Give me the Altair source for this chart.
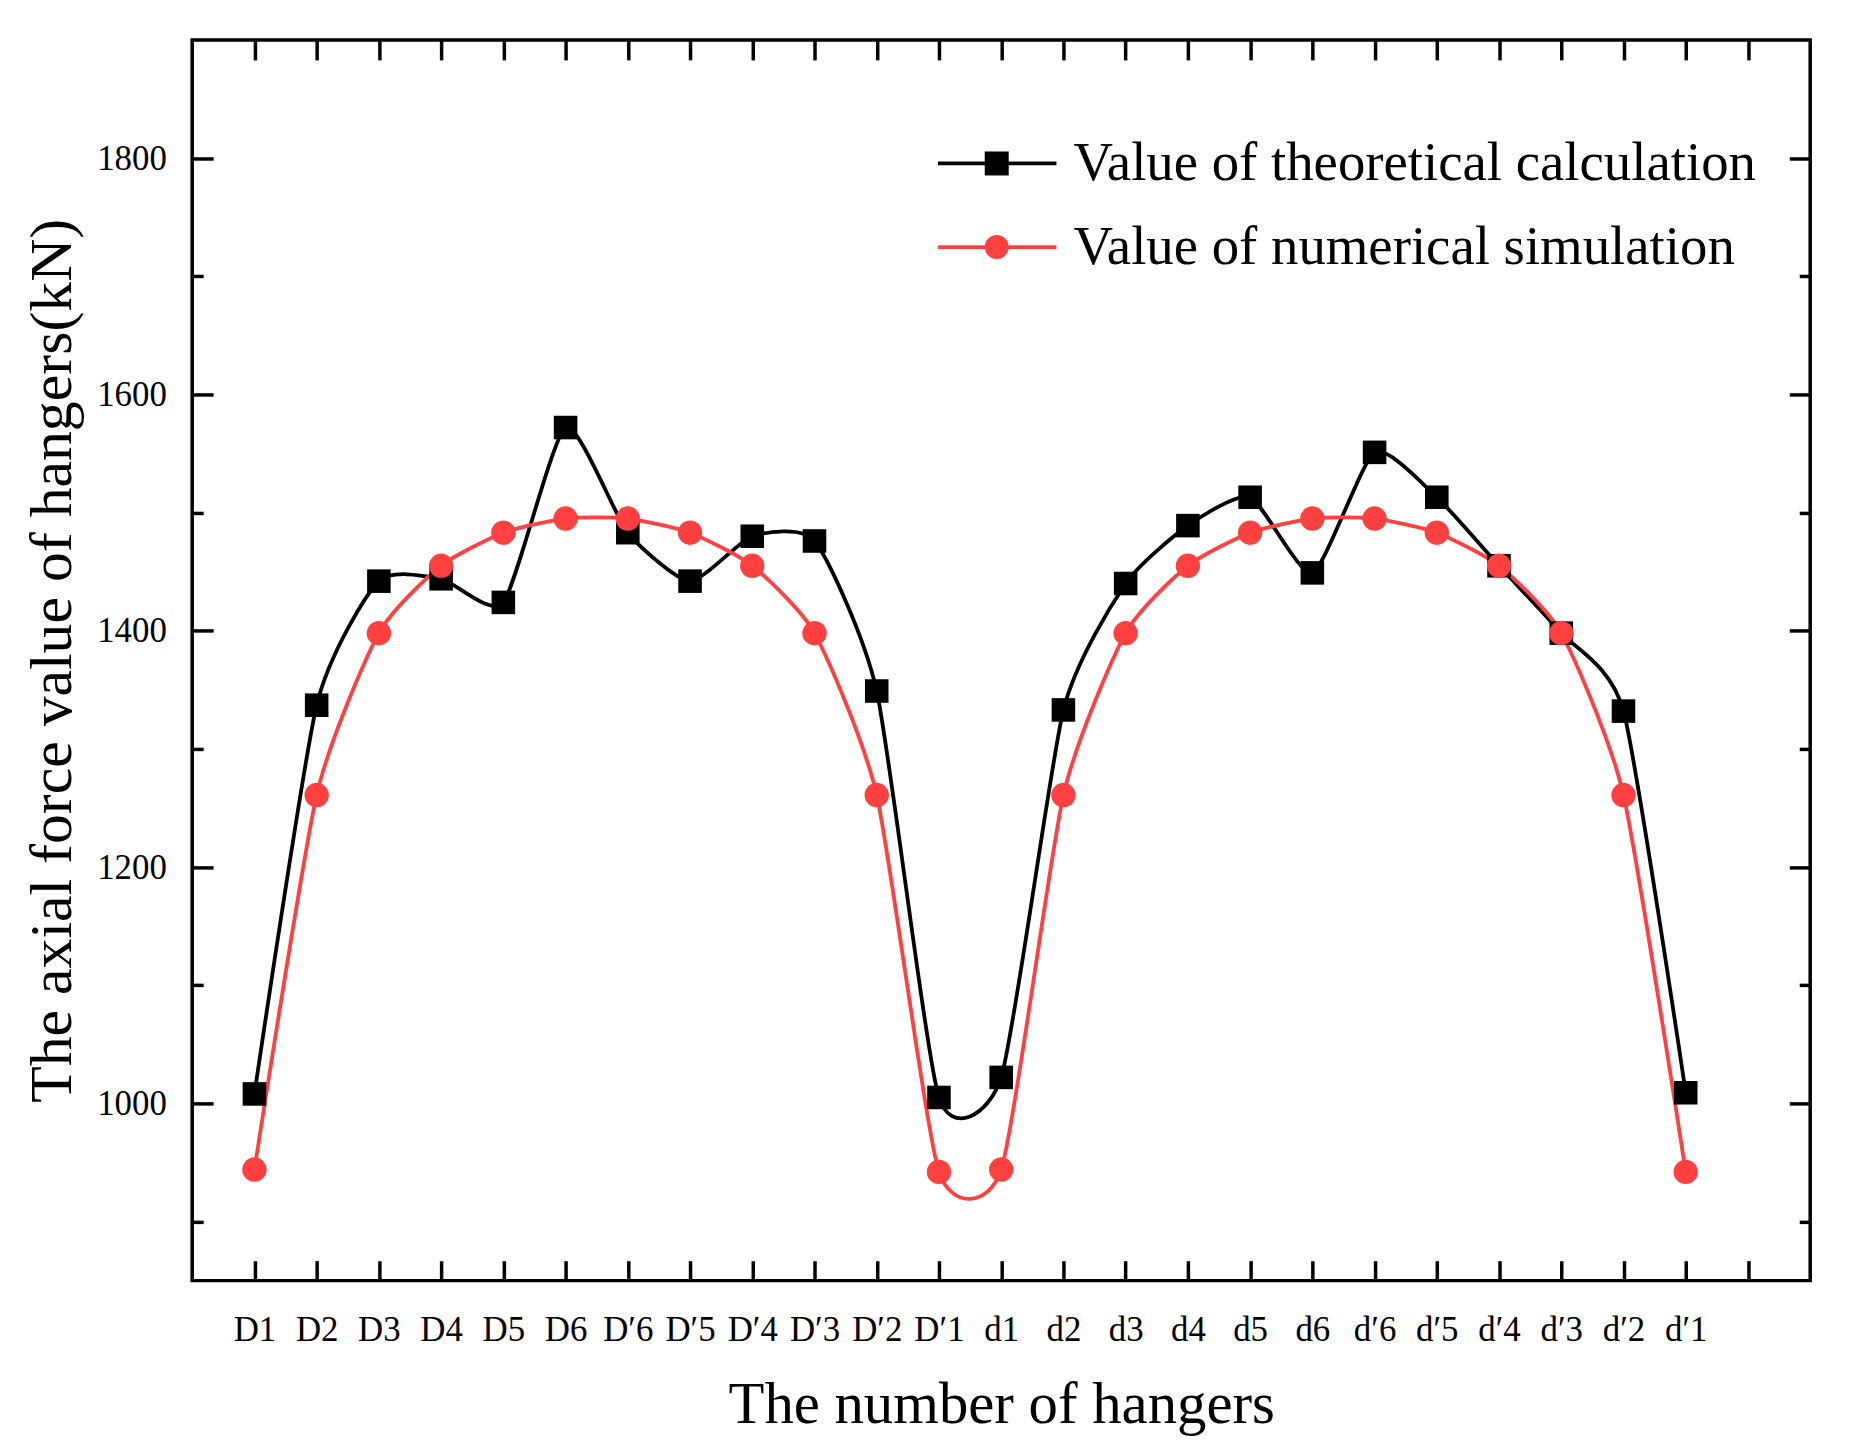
import json
import altair as alt
import pandas as pd

# ---------------- data ----------------
hangers = ["D1", "D2", "D3", "D4", "D5", "D6",
           "D\u20326", "D\u20325", "D\u20324", "D\u20323", "D\u20322", "D\u20321",
           "d1", "d2", "d3", "d4", "d5", "d6",
           "d\u20326", "d\u20325", "d\u20324", "d\u20323", "d\u20322", "d\u20321"]
theoretical = [1008, 1337, 1442, 1444, 1424, 1572, 1483, 1442, 1480, 1476, 1349, 1005,
               1022, 1333, 1440, 1489, 1513, 1449, 1551, 1513, 1455, 1398, 1332, 1009]
simulation = [944, 1261, 1398, 1455, 1483, 1495, 1495, 1483, 1455, 1398, 1261, 942,
              944, 1261, 1398, 1455, 1483, 1495, 1495, 1483, 1455, 1398, 1261, 942]
series_names = ["Value of theoretical calculation", "Value of numerical simulation"]
series_colors = ["#000000", "#FF4040"]
series_shapes = ["square", "circle"]
x_ticks = list(range(1, 26))
y_ticks = [900, 1000, 1100, 1200, 1300, 1400, 1500, 1600, 1700, 1800]
x_title = "The number of hangers"
y_title = "The axial force value of hangers(kN)"

rows = []
for i, (t, s) in enumerate(zip(theoretical, simulation), start=1):
    rows.append({"pos": i, "hanger": hangers[i - 1], "series": series_names[0], "value": t})
    rows.append({"pos": i, "hanger": hangers[i - 1], "series": series_names[1], "value": s})
df = pd.DataFrame(rows)
legend_df = pd.DataFrame({"series": series_names})

FONT = "Liberation Serif"
W, H = 1625, 1246
LW = 3.8

names_js = json.dumps(hangers, ensure_ascii=False)
x_label_expr = f"datum.value >= 1 && datum.value <= {len(hangers)} ? {names_js}[datum.value - 1] : ''"
y_label_expr = "datum.value % 200 == 0 ? '' + datum.value : ''"
y_tick_expr = "datum.value % 200 == 0 ? -21 : -11"

x_scale = alt.Scale(domain=[0, 26], nice=False, zero=False)
y_scale = alt.Scale(domain=[850, 1900], nice=False, zero=False)
color_scale = alt.Scale(domain=series_names, range=series_colors)
shape_scale = alt.Scale(domain=series_names, range=series_shapes)

common_axis = dict(domain=False, grid=False, tickColor="black", tickWidth=3.5,
                   labelFont=FONT, labelColor="black", labelOverlap=False, labelFlush=False)

x_bottom = alt.Axis(orient="bottom", values=x_ticks, labelExpr=x_label_expr,
                    tickSize=alt.ExprRef("-20"), labelFontSize=35, labelPadding=52,
                    title=x_title, titleFont=FONT, titleFontSize=59, titleFontWeight="normal",
                    titleColor="black", titleX=W / 2, titleY=143, titleBaseline="alphabetic",
                    titleAlign="center", **common_axis)
y_left = alt.Axis(orient="left", values=y_ticks, labelExpr=y_label_expr,
                  tickSize=alt.ExprRef(y_tick_expr), labelFontSize=35, labelPadding=47,
                  title=y_title, titleFont=FONT, titleFontSize=60, titleFontWeight="normal",
                  titleColor="black", titleX=-122, titleY=H / 2, titleAngle=270,
                  titleBaseline="alphabetic", titleAlign="center", **common_axis)
x_top = alt.Axis(orient="top", values=x_ticks, labels=False, tickSize=alt.ExprRef("-20"),
                 title=None, **common_axis)
y_right = alt.Axis(orient="right", values=y_ticks, labels=False,
                   tickSize=alt.ExprRef(y_tick_expr), title=None, **common_axis)

base = alt.Chart(df)

lines = base.mark_line(interpolate="cardinal", tension=0.4, strokeWidth=LW).encode(
    x=alt.X("pos:Q", scale=x_scale, axis=x_bottom),
    y=alt.Y("value:Q", scale=y_scale, axis=y_left),
    color=alt.Color("series:N", scale=color_scale, legend=None),
    detail="series:N",
    order="pos:Q",
)

squares = base.transform_filter(
    alt.datum.series == series_names[0]
).mark_point(shape="square", filled=True, size=560, opacity=1).encode(
    x=alt.X("pos:Q", scale=x_scale, axis=x_top),
    y=alt.Y("value:Q", scale=y_scale, axis=y_right),
    color=alt.Color("series:N", scale=color_scale, legend=None),
)

circles = base.transform_filter(
    alt.datum.series == series_names[1]
).mark_point(shape="circle", filled=True, size=600, opacity=1).encode(
    x=alt.X("pos:Q", scale=x_scale, axis=None),
    y=alt.Y("value:Q", scale=y_scale, axis=None),
    color=alt.Color("series:N", scale=color_scale, legend=None),
)

# ---------------- legend (top right, inside the frame) ----------------
leg_y = alt.Y("series:N", scale=alt.Scale(type="point", domain=series_names,
                                           range=[124, 208], padding=0), axis=None)
leg_base = alt.Chart(legend_df)

leg_lines = leg_base.mark_rule(strokeWidth=LW).encode(
    x=alt.value(749), x2=alt.value(868), y=leg_y,
    color=alt.Color("series:N", scale=color_scale, legend=None),
)
leg_marks = leg_base.mark_point(filled=True, size=580, opacity=1).encode(
    x=alt.value(808), y=leg_y,
    color=alt.Color("series:N", scale=color_scale, legend=None),
    shape=alt.Shape("series:N", scale=shape_scale, legend=None),
)
leg_text = leg_base.mark_text(align="left", baseline="middle", font=FONT, fontSize=55,
                              color="black").encode(
    x=alt.value(885), y=leg_y, text="series:N",
)

chart = alt.layer(lines, squares, circles, leg_lines, leg_marks, leg_text).resolve_axis(
    x="independent", y="independent"
).resolve_scale(y="independent").properties(
    width=W, height=H,
    padding={"left": 185, "top": 29, "right": 44, "bottom": 171},
    autosize=alt.AutoSizeParams(type="none"),
    background="white",
).configure_view(stroke="black", strokeWidth=3.5)

chart.save("out.html", embed_options={"renderer": "svg", "actions": False})
